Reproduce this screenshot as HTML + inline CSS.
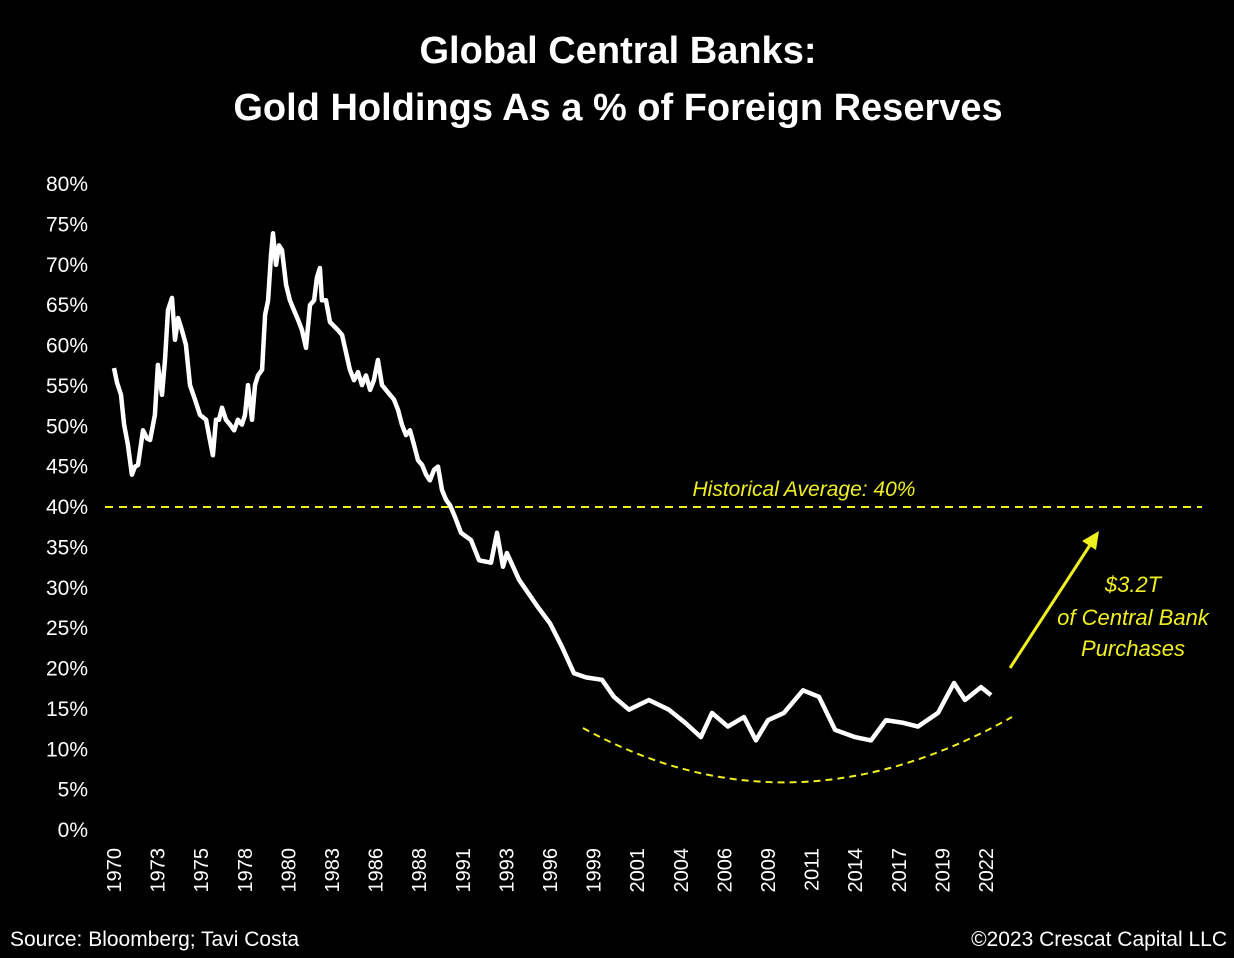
<!DOCTYPE html>
<html><head><meta charset="utf-8"><style>
html,body{margin:0;padding:0;background:#000;}
svg{display:block;font-family:"Liberation Sans",sans-serif;}
</style></head><body>
<svg id="chart" width="1234" height="958" viewBox="0 0 1234 958">
<rect x="0" y="0" width="1234" height="958" fill="#000"/>
<text x="618" y="63" text-anchor="middle" fill="#fff" font-size="38" font-weight="bold">Global Central Banks:</text>
<text x="618" y="120" text-anchor="middle" fill="#fff" font-size="38" font-weight="bold">Gold Holdings As a % of Foreign Reserves</text>
<g id="yaxis"></g>
<g id="xaxis"></g>
<line id="avg" stroke="#f0f020" stroke-width="2" stroke-dasharray="8,6"/>
<text id="avgLabel" x="804" y="496" text-anchor="middle" fill="#f0f020" font-size="21" font-style="italic">Historical Average: 40%</text>
<path d="M583,728 Q790,842 1012,717" fill="none" stroke="#f0f020" stroke-width="2" stroke-dasharray="7,5"/>
<line x1="1010" y1="668" x2="1092" y2="542" stroke="#f0f020" stroke-width="3"/>
<polygon points="1099,531 1082,541 1096,550" fill="#f0f020"/>
<g fill="#f0f020" font-size="22" font-style="italic" text-anchor="middle">
<text x="1133" y="592">$3.2T</text>
<text x="1133" y="625">of Central Bank</text>
<text x="1133" y="656">Purchases</text>
</g>
<path id="line" fill="none" stroke="#fff" stroke-width="4.5" stroke-linejoin="round"/>
<text x="10" y="946" fill="#fff" font-size="21">Source: Bloomberg; Tavi Costa</text>
<text x="1227" y="946" text-anchor="end" fill="#fff" font-size="21">©2023 Crescat Capital LLC</text>
</svg>
<script>
const yTicks=[0,5,10,15,20,25,30,35,40,45,50,55,60,65,70,75,80];
const xTickLabels=["1970","1973","1975","1978","1980","1983","1986","1988","1991","1993","1996","1999","2001","2004","2006","2009","2011","2014","2017","2019","2022"];
const average=40;
const years=[1970.00,1970.18,1970.42,1970.60,1970.83,1971.07,1971.25,1971.43,1971.73,1971.97,1972.15,1972.44,1972.62,1972.86,1973.04,1973.22,1973.46,1973.64,1973.82,1974.05,1974.29,1974.53,1974.83,1975.13,1975.49,1975.72,1975.90,1976.08,1976.26,1976.44,1976.68,1976.92,1977.16,1977.39,1977.63,1977.81,1977.99,1978.23,1978.41,1978.59,1978.83,1979.01,1979.19,1979.36,1979.48,1979.66,1979.84,1980.02,1980.26,1980.49,1980.73,1980.97,1981.21,1981.45,1981.69,1981.93,1982.10,1982.28,1982.40,1982.64,1982.88,1983.12,1983.36,1983.60,1983.83,1984.07,1984.31,1984.55,1984.79,1985.03,1985.27,1985.50,1985.74,1985.98,1986.22,1986.46,1986.70,1986.94,1987.17,1987.41,1987.65,1987.89,1988.13,1988.37,1988.61,1988.84,1989.08,1989.32,1989.56,1989.80,1990.04,1990.33,1990.69,1991.29,1991.77,1992.48,1992.84,1993.20,1993.43,1994.15,1995.28,1996.00,1996.71,1997.43,1998.14,1999.10,1999.81,2000.71,2001.90,2003.09,2004.05,2005.00,2005.66,2006.61,2007.57,2008.28,2009.00,2009.95,2011.09,2012.04,2013.00,2014.19,2015.14,2016.03,2016.99,2017.94,2019.14,2020.09,2020.75,2021.70,2022.30];
const values=[57.2,55.4,53.9,50.2,47.7,44.0,45.0,45.2,49.5,48.5,48.3,51.4,57.6,53.9,58.2,64.4,65.9,60.7,63.4,61.9,60.1,55.1,53.3,51.4,50.8,48.3,46.4,50.8,50.8,52.3,50.8,50.2,49.5,50.8,50.2,51.4,55.1,50.8,55.1,56.3,57.0,63.8,65.6,71.2,73.9,70.0,72.4,71.8,67.5,65.6,64.4,63.2,61.9,59.7,65.0,65.6,68.4,69.6,65.6,65.6,62.9,62.4,61.9,61.3,59.2,57.0,55.7,56.7,55.1,56.3,54.5,55.7,58.2,55.1,54.5,53.9,53.3,52.0,50.2,48.9,49.5,47.7,45.8,45.2,44.0,43.3,44.6,45.0,42.1,40.9,40.2,38.8,36.8,35.9,33.4,33.1,36.8,32.6,34.3,31.0,27.6,25.6,22.7,19.4,18.9,18.6,16.5,14.9,16.1,14.9,13.3,11.5,14.5,12.8,14.0,11.1,13.6,14.5,17.3,16.5,12.4,11.5,11.1,13.6,13.3,12.8,14.5,18.2,16.1,17.7,16.7];
const NS="http://www.w3.org/2000/svg";
const y=v=>830-v*(646/80);
const x=yr=>114+(yr-1970)*(872/52);
const yg=document.getElementById('yaxis');
yTicks.forEach(t=>{const e=document.createElementNS(NS,'text');


e.setAttribute('x',88);e.setAttribute('y',y(t)+7);e.setAttribute('text-anchor','end');e.setAttribute('fill','#fff');e.setAttribute('font-size','21');e.textContent=t+'%';yg.appendChild(e);});
const xg=document.getElementById('xaxis');
xTickLabels.forEach((l,i)=>{const cx=114+i*872/20;const e=document.createElementNS(NS,'text');


e.setAttribute('transform','translate('+(cx+7)+',848) rotate(-90)');e.setAttribute('text-anchor','end');e.setAttribute('fill','#fff');e.setAttribute('font-size','20');e.textContent=l;xg.appendChild(e);});
const a=document.getElementById('avg');a.setAttribute('x1',105);a.setAttribute('x2',1202);a.setAttribute('y1',y(average));a.setAttribute('y2',y(average));
document.getElementById('line').setAttribute('d',years.map((yr,i)=>(i?'L':'M')+x(yr).toFixed(1)+','+y(values[i]).toFixed(1)).join(''));
</script>
</body></html>
